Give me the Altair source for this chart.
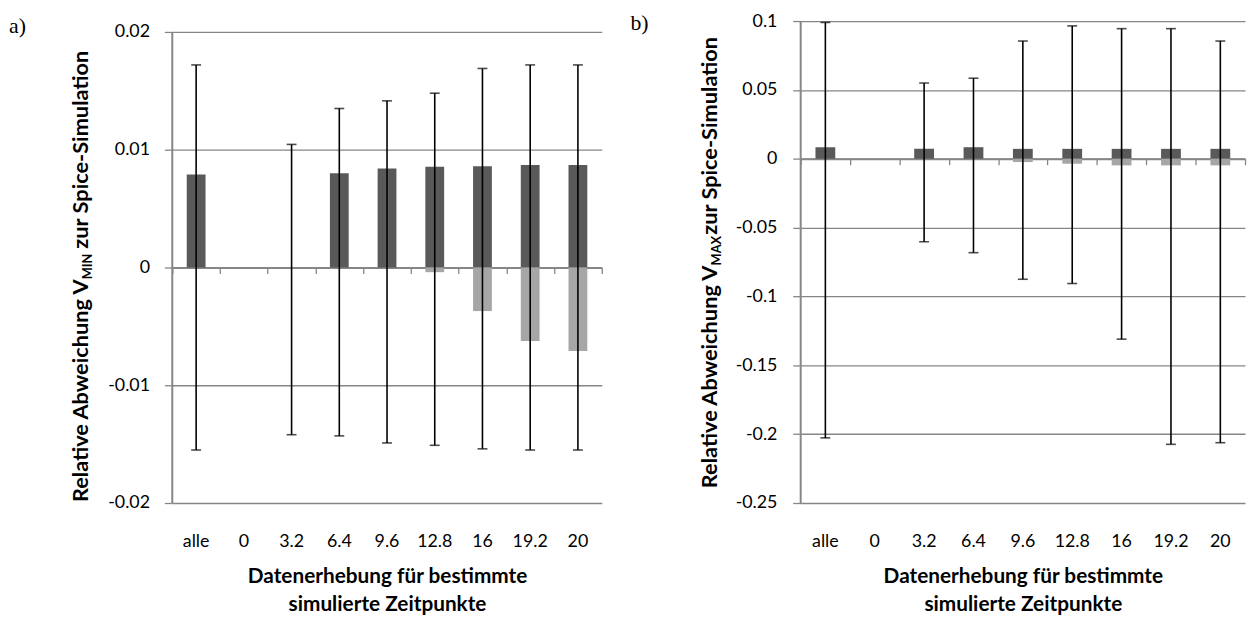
import altair as alt
import pandas as pd

categories = ["alle", "0", "3.2", "6.4", "9.6", "12.8", "16", "19.2", "20"]

# panel a) relative deviation V_MIN
a_dark = [0.0079, None, 0.0, 0.0080, 0.0084, 0.00855, 0.0086, 0.0087, 0.0087]
a_light = [0.0, None, 0.0, 0.0, 0.0, -0.0004, -0.0037, -0.00625, -0.0071]
a_hi = [0.0172, None, 0.01045, 0.0135, 0.01415, 0.0148, 0.0169, 0.0172, 0.0172]
a_lo = [-0.0155, None, -0.0142, -0.0143, -0.0149, -0.0151, -0.0154, -0.0155, -0.0155]
a_ticks = [-0.02, -0.01, 0, 0.01, 0.02]

# panel b) relative deviation V_MAX
b_dark = [0.0084, None, 0.0072, 0.0084, 0.0072, 0.0072, 0.0072, 0.0072, 0.0072]
b_light = [0.0, None, 0.0, 0.0, -0.0024, -0.0036, -0.0048, -0.0048, -0.0048]
b_hi = [0.099, None, 0.055, 0.0585, 0.0855, 0.0965, 0.0945, 0.0945, 0.0855]
b_lo = [-0.2027, None, -0.0603, -0.0682, -0.0875, -0.0906, -0.131, -0.2074, -0.2062]
b_ticks = [-0.25, -0.2, -0.15, -0.1, -0.05, 0, 0.05, 0.1]

x_title = ["Datenerhebung für bestimmte", "simulierte Zeitpunkte"]

FONT = "Lato"
GRID = "#868686"
H = 487


def one_text(txt):
    return alt.Chart(pd.DataFrame({"t": [txt]}))


def panel(dark, light, hi, lo, ticks, top_extra, width, bar_size, letter,
          letter_x, letter_y, sub, junction, label_pad):
    ymin, ymax = min(ticks), max(ticks)
    # headroom above the top tick so both plot areas share one top edge
    span = (ymax - ymin) / (H - top_extra) * H
    dmax = ymin + span
    zero_off = -(H - dmax / span * H)
    df = pd.DataFrame({"cat": categories, "dark": dark, "light": light,
                       "hi": hi, "lo": lo}).dropna()
    xscale = alt.Scale(domain=categories, paddingInner=0, paddingOuter=0)
    yscale = alt.Scale(domain=[ymin, dmax], nice=False, zero=False)
    yaxis = alt.Axis(values=ticks, labelExpr="'' + datum.value", title=None,
                     grid=True, gridColor=GRID, gridWidth=1.3, domain=False,
                     tickColor=GRID, tickSize=8, tickWidth=1.3,
                     labelFont=FONT, labelFontSize=18, labelColor="black",
                     labelPadding=label_pad)
    label_axis = alt.Axis(orient="bottom", domain=False, ticks=False,
                          grid=False, labelAngle=0, labelFont=FONT,
                          labelFontSize=18, labelColor="black",
                          labelPadding=30, title=x_title, titleFont=FONT,
                          titleFontSize=21, titleFontWeight="bold",
                          titleColor="black", titleLineHeight=29,
                          titlePadding=15)
    zero_axis = alt.Axis(orient="bottom", offset=zero_off, labels=False,
                         title=None, grid=False, domainColor=GRID,
                         domainWidth=2, tickColor=GRID, tickSize=6,
                         tickWidth=1.3, tickBand="extent")
    base = alt.Chart(df)
    dark_bars = base.mark_bar(size=bar_size, color="#595959").encode(
        x=alt.X("cat:N", sort=categories, scale=xscale, axis=label_axis),
        y=alt.Y("dark:Q", scale=yscale, axis=yaxis))
    light_bars = base.mark_bar(size=bar_size, color="#A6A6A6").encode(
        x=alt.X("cat:N", sort=categories, scale=xscale, axis=zero_axis),
        y=alt.Y("light:Q", scale=yscale, axis=yaxis))
    whisk = base.mark_rule(color="black", strokeWidth=1.6).encode(
        x=alt.X("cat:N", sort=categories, scale=xscale, axis=None),
        y=alt.Y("lo:Q", scale=yscale, axis=yaxis), y2="hi:Q")
    cap_hi = base.mark_tick(color="black", thickness=1.6, size=10).encode(
        x=alt.X("cat:N", sort=categories, scale=xscale, axis=None),
        y=alt.Y("hi:Q", scale=yscale, axis=yaxis))
    cap_lo = base.mark_tick(color="black", thickness=1.6, size=10).encode(
        x=alt.X("cat:N", sort=categories, scale=xscale, axis=None),
        y=alt.Y("lo:Q", scale=yscale, axis=yaxis))
    y_line = one_text("").mark_rule(color=GRID, strokeWidth=2).encode(
        x=alt.value(0), y=alt.Y(datum=ymin, scale=yscale, axis=yaxis),
        y2=alt.Y2(datum=ymax))
    # y-axis title with subscript
    t_a = one_text("Relative Abweichung V").mark_text(
        angle=270, align="right", baseline="alphabetic", font=FONT,
        fontSize=22, fontWeight="bold", color="black").encode(
        x=alt.value(-85), y=alt.value(junction), text="t:N")
    t_b = one_text(sub).mark_text(
        angle=270, align="left", baseline="alphabetic", font=FONT,
        fontSize=13, fontWeight="bold", color="black", dy=4).encode(
        x=alt.value(-85), y=alt.value(junction), text="t:N")
    t_c = one_text("zur Spice-Simulation").mark_text(
        angle=270, align="left", baseline="alphabetic", font=FONT,
        fontSize=22, fontWeight="bold", color="black").encode(
        x=alt.value(-85), y=alt.value(junction - 31), text="t:N")
    t_letter = one_text(letter).mark_text(
        align="left", baseline="alphabetic", font="Liberation Serif",
        fontSize=22, color="black").encode(
        x=alt.value(letter_x), y=alt.value(letter_y), text="t:N")
    return alt.layer(dark_bars, light_bars, whisk, cap_hi, cap_lo, y_line,
                     t_a, t_b, t_c, t_letter).resolve_axis(
        x="independent").properties(width=width, height=H)


left = panel(a_dark, a_light, a_hi, a_lo, a_ticks, 11, 434, 19, "a)",
             -165, 12, "MIN", 261, 15)
right = panel(b_dark, b_light, b_hi, b_lo, b_ticks, 0, 449, 20, "b)",
              -172, 9, "MAX", 247, 16)

chart = alt.hconcat(left, right, spacing=26).properties(
    padding=0, background="white").configure_view(stroke="transparent")

chart.save("out.html", embed_options={"renderer": "svg", "actions": False})
